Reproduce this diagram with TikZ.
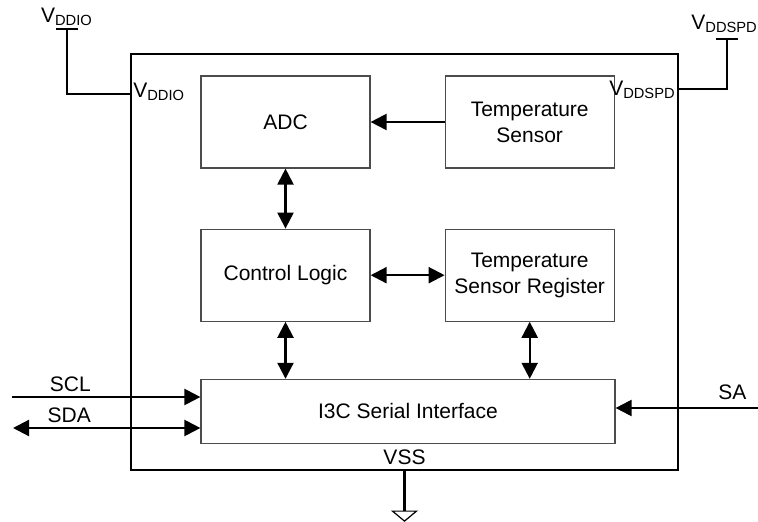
\documentclass[tikz,border=0pt]{standalone}
\usepackage{fontspec}
\setmainfont{Liberation Sans}
\usetikzlibrary{arrows.meta, positioning}

\begin{document}
\begin{tikzpicture}[
        x=0.5pt, y=-0.5pt,
        node distance=30pt,
        block/.style={draw=black!70, line width=0.6pt, minimum width=84.5pt, minimum height=46pt, inner sep=0pt, align=center, font=\fontsize{10.5}{13}\selectfont},
        siglabel/.style={inner sep=0pt, font=\fontsize{10.5}{13}\selectfont},
        wire/.style={line width=1.1pt},
        >={Triangle[length=8pt, width=8pt]}
    ]
        \useasboundingbox (0,0) rectangle (758,522);

        % Chip outline
        \node[draw, line width=1.1pt, minimum width=273.5pt, minimum height=208pt, inner sep=0pt] (chip) at (404.5,262) {};

        % Blocks
        \node[block] (adc) at (285.5,122) {ADC};
        \node[block, right=37pt of adc] (tsens) {Temperature\\Sensor};
        \node[block, below=30pt of adc] (ctrl) {Control Logic};
        \node[block, below=30pt of tsens] (treg) {Temperature\\Sensor Register};
        \node[block, minimum width=207pt, minimum height=32pt, below=28.5pt of ctrl.south west, anchor=north west] (i3c) {I3C Serial Interface};

        % Arrows
        \draw[wire, ->] (tsens) -- (adc);
        \draw[wire, <->] (adc) -- (ctrl);
        \draw[wire, <->] (ctrl) -- (treg);
        \draw[wire, <->] (ctrl.south) -- (ctrl.south |- i3c.north);
        \draw[wire, <->] (treg.south) -- (treg.south |- i3c.north);

        % Serial pins
        \coordinate (scl) at (12,397);
        \coordinate (sda) at (13,428);
        \coordinate (sa) at (758,408);
        \draw[wire, ->] (scl) -- node[siglabel, pos=0.31, above=2pt] {SCL} (scl -| i3c.west);
        \draw[wire, <->] (sda) -- node[siglabel, pos=0.30, above=2pt] {SDA} (sda -| i3c.west);
        \draw[wire, ->] (sa) -- node[siglabel, pos=0.18, above=3.5pt] {SA} (sa -| i3c.east);

        % Supplies
        \coordinate (vddio) at (67,29);
        \coordinate (vddioin) at (chip.west |- 0,94);
        \draw[wire] (vddio) ++(-11,0) -- ++(22,0);
        \draw[wire] (vddio) |- (vddioin);
        \node[siglabel, above=1.5pt of vddio] {V\textsubscript{DDIO}};
        \node[siglabel, right=1.5pt of vddioin, yshift=1.2pt] {V\textsubscript{DDIO}};

        \coordinate (vddspd) at (727,39);
        \coordinate (vddspdin) at (chip.east |- 0,89);
        \draw[wire] (vddspd) ++(-11,0) -- ++(22,0);
        \draw[wire] (vddspd) |- (vddspdin);
        \node[siglabel, above=3pt of vddspd, xshift=-1.2pt] {V\textsubscript{DDSPD}};
        \node[siglabel, left=1.5pt of vddspdin, yshift=-0.5pt] {V\textsubscript{DDSPD}};

        % Ground
        \node[siglabel, above=3pt of chip.south] {VSS};
        \draw[wire] (chip.south) -- ++(0,40) coordinate (gnd);
        \draw[line width=0.6pt] (gnd) ++(-12,0) -- ++(24,0) -- ++(-12,10) -- cycle;
    \end{tikzpicture}
\end{document}
